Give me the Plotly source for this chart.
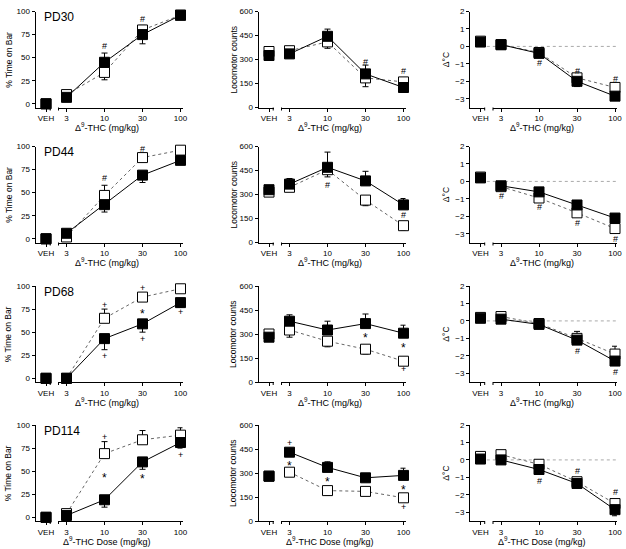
import plotly.graph_objects as go

W, H = 626, 549

panel_names = ['PD30', 'PD44', 'PD68', 'PD114']
veh_label = 'VEH'
dose_labels = ['3', '10', '30', '100']
y_titles = ['% Time on Bar', 'Locomotor counts', 'Δ°C']

# each row: VEH, 3, 10, 30, 100 mg/kg
bar_filled = [[0, 7, 45, 75, 96], [0, 6, 37, 69, 85], [0, 0, 43, 59, 82], [0, 2, 19, 60, 81]]
bar_open = [[0, 10, 34, 80, 96], [0, 2, 47, 88, 96], [0, 0, 65, 88, 97], [0, 4, 69, 84, 89]]
bar_filled_up = [[0, 0, 10, 0, 0], [0, 0, 0, 0, 0], [0, 0, 0, 0, 0], [0, 0, 0, 0, 0]]
bar_filled_dn = [[0, 0, 0, 10, 0], [0, 0, 8, 8, 0], [0, 0, 12, 9, 5], [0, 0, 8, 8, 6]]
bar_open_up = [[0, 0, 0, 5, 0], [0, 0, 11, 0, 0], [0, 0, 10, 0, 0], [0, 0, 13, 10, 8]]
bar_open_dn = [[0, 0, 8, 0, 0], [0, 0, 0, 0, 0], [0, 0, 0, 0, 0], [0, 0, 0, 0, 0]]

loco_filled = [[325, 335, 445, 210, 125], [330, 365, 470, 385, 235], [280, 380, 325, 365, 305], [280, 430, 335, 270, 285]]
loco_open = [[350, 355, 410, 185, 160], [315, 345, 455, 265, 105], [300, 325, 255, 205, 130], [280, 305, 190, 185, 145]]
loco_filled_up = [[0, 0, 45, 55, 0], [0, 35, 95, 60, 40], [0, 40, 55, 60, 50], [0, 0, 35, 0, 45]]
loco_filled_dn = [[0, 0, 0, 0, 0], [0, 0, 0, 0, 0], [0, 0, 0, 0, 0], [0, 0, 0, 0, 0]]
loco_open_up = [[0, 0, 0, 0, 0], [0, 0, 0, 0, 0], [0, 0, 0, 0, 0], [0, 0, 0, 0, 0]]
loco_open_dn = [[0, 0, 40, 55, 0], [0, 0, 45, 35, 30], [0, 45, 35, 30, 15], [0, 20, 30, 0, 15]]

temp_filled = [[0.25, 0.1, -0.4, -2.0, -2.85], [0.2, -0.25, -0.6, -1.35, -2.1],
               [0.15, 0.1, -0.2, -1.1, -2.3], [0.05, 0.0, -0.55, -1.35, -2.85]]
temp_open = [[0.3, 0.1, -0.35, -1.8, -2.35], [0.25, -0.3, -0.95, -1.8, -2.7],
             [0.2, 0.25, -0.15, -1.0, -1.9], [0.2, 0.3, -0.25, -1.25, -2.5]]
temp_filled_up = [[0, 0, 0, 0, 0], [0, 0, 0, 0, 0], [0, 0, 0, 0, 0], [0, 0, 0, 0, 0]]
temp_filled_dn = [[0, 0, 0, 0.3, 0.1], [0, 0, 0, 0, 0], [0, 0, 0.2, 0.2, 0.25], [0, 0, 0, 0, 0.35]]
temp_open_up = [[0, 0, 0, 0, 0], [0, 0, 0, 0, 0], [0.15, 0, 0.25, 0.4, 0.45], [0, 0, 0, 0, 0.2]]
temp_open_dn = [[0, 0, 0, 0, 0], [0, 0, 0, 0, 0], [0, 0, 0, 0, 0], [0, 0, 0, 0, 0]]

# significance marks: (row, col, dose index, y, symbol)
marks = [
    (0, 0, 1, 63, '#'), (0, 0, 2, 92, '#'), (0, 0, 3, 105, '#'),
    (0, 1, 2, 286, '#'), (0, 1, 3, 225, '#'),
    (0, 2, 1, -0.95, '#'), (0, 2, 2, -1.4, '#'), (0, 2, 3, -1.85, '#'),
    (1, 0, 1, 66, '#'), (1, 0, 2, 97, '#'), (1, 0, 3, 107, '#'),
    (1, 1, 1, 359, '#'), (1, 1, 3, 169, '#'),
    (1, 2, 0, -0.86, '#'), (1, 2, 1, -1.49, '#'), (1, 2, 2, -2.38, '#'), (1, 2, 3, -3.28, '#'),
    (2, 0, 1, 79, '+'), (2, 0, 1, 24, '+'), (2, 0, 2, 97.5, '+'), (2, 0, 2, 72, '*'),
    (2, 0, 2, 43, '+'), (2, 0, 3, 106, '+'), (2, 0, 3, 71.5, '+'),
    (2, 1, 2, 289, '*'), (2, 1, 3, 223, '*'), (2, 1, 3, 83, '+'),
    (2, 2, 2, -1.71, '#'), (2, 2, 3, -2.92, '#'),
    (3, 0, 1, 86.6, '+'), (3, 0, 1, 45, '*'), (3, 0, 2, 109, '+'), (3, 0, 2, 44, '*'),
    (3, 0, 3, 102, '+'), (3, 0, 3, 68, '+'),
    (3, 1, 0, 486, '+'), (3, 1, 0, 356, '*'), (3, 1, 1, 259, '*'), (3, 1, 3, 207, '*'), (3, 1, 3, 87, '+'),
    (3, 2, 1, -1.18, '#'), (3, 2, 2, -0.61, '#'), (3, 2, 3, -1.85, '#'),
]

measures = [
    (bar_filled, bar_open, bar_filled_up, bar_filled_dn, bar_open_up, bar_open_dn),
    (loco_filled, loco_open, loco_filled_up, loco_filled_dn, loco_open_up, loco_open_dn),
    (temp_filled, temp_open, temp_filled_up, temp_filled_dn, temp_open_up, temp_open_dn),
]
y_ranges = [[-4, 100], [0, 600], [-3.5, 2]]
y_ticks = [[0, 25, 50, 75, 100], [0, 150, 300, 450, 600], [-3, -2, -1, 0, 1, 2]]

# pixel layout
col_axis_px = [35.5, 258.5, 470]
row_top_px = [11.5, 146.5, 286, 425]
plot_h = 96
y_title_px = [8.3, 233, 445.7]
FONT = 'Arial, Liberation Sans, sans-serif'


def fx(px):
    return px / W


def fy(py):
    return 1 - py / H


def ref(letter, n):
    return letter if n == 1 else f'{letter}{n}'


fig = go.Figure()
layout = {}
annotations = []
shapes = []
dose_pos = list(range(len(dose_labels)))

for r in range(4):
    for c in range(3):
        p = r * 3 + c
        xv, xm, yn = 2 * p + 1, 2 * p + 2, p + 1
        a = col_axis_px[c]
        top = row_top_px[r]
        ydom = [fy(top + plot_h), fy(top)]

        axis_common = dict(showline=True, linecolor='black', linewidth=1, ticks='outside',
                           ticklen=3, tickcolor='black', tickwidth=1, showgrid=False,
                           zeroline=False, tickfont=dict(size=8, color='black', family=FONT),
                           automargin=False, fixedrange=True)

        layout[f'xaxis{xv}'] = dict(axis_common, domain=[fx(a), fx(a + 15)], anchor=ref('y', yn),
                                    range=[-0.7, 0.3], tickvals=[0], ticktext=[veh_label])
        layout[f'xaxis{xm}'] = dict(axis_common, domain=[fx(a + 23), fx(a + 147)], anchor=ref('y', yn),
                                    range=[-8 / 38, 3 + 2 / 38],
                                    tickvals=dose_pos, ticktext=dose_labels)
        layout[f'yaxis{yn}'] = dict(axis_common, domain=ydom, anchor=ref('x', xv),
                                    range=y_ranges[c], tickvals=y_ticks[c])

        # small end ticks at the axis break
        for xr, xpos in [(ref('x', xv) + ' domain', 0.98), (ref('x', xm) + ' domain', 0.0)]:
            shapes.append(dict(type='line', xref=xr, yref=ref('y', yn) + ' domain', ysizemode='pixel',
                               yanchor=0, x0=xpos, x1=xpos, y0=0, y1=-3,
                               line=dict(color='black', width=1)))

        filled, opn, f_up, f_dn, o_up, o_dn = [m[r] for m in measures[c]]

        for vals, up, dn, fill, line in [
            (opn, o_up, o_dn, 'white', dict(color='#666666', width=1, dash='dot')),
            (filled, f_up, f_dn, 'black', dict(color='black', width=1)),
        ]:
            marker = dict(symbol='square', size=10, color=fill, line=dict(color='black', width=1))
            err = lambda u, d: dict(type='data', symmetric=False, array=u, arrayminus=d,
                                    color='black', thickness=1, width=3)
            fig.add_trace(go.Scatter(x=[0], y=[vals[0]], mode='markers', marker=marker,
                                     error_y=err([up[0]], [dn[0]]), cliponaxis=False,
                                     xaxis=ref('x', xv), yaxis=ref('y', yn), showlegend=False))
            fig.add_trace(go.Scatter(x=dose_pos, y=vals[1:], mode='lines+markers', marker=marker,
                                     line=line, error_y=err(up[1:], dn[1:]), cliponaxis=False,
                                     xaxis=ref('x', xm), yaxis=ref('y', yn), showlegend=False))

        if c == 2:
            shapes.append(dict(type='line', xref=ref('x', xm) + ' domain', yref=ref('y', yn),
                               x0=-0.05, x1=1, y0=0, y1=0, layer='below',
                               line=dict(color='#aaaaaa', width=1, dash='dot')))

        # axis titles
        annotations.append(dict(text=y_titles[c], textangle=-90, x=fx(y_title_px[c]),
                                y=fy(top + plot_h / 2), xref='paper', yref='paper',
                                xanchor='center', yanchor='middle',
                                showarrow=False, font=dict(size=8.5, color='black', family=FONT)))
        xt = 'Δ<sup>9</sup>-THC Dose (mg/kg)' if r == 3 else 'Δ<sup>9</sup>-THC (mg/kg)'
        annotations.append(dict(text=xt, x=fx(a + 71.5), y=fy(top + plot_h + 19.5),
                                xref='paper', yref='paper', xanchor='center', yanchor='middle',
                                showarrow=False, font=dict(size=9, color='black', family=FONT)))
        if c == 0:
            annotations.append(dict(text=panel_names[r], x=fx(a + 6), y=fy(top + 5.5),
                                    xref='paper', yref='paper', xanchor='left', yanchor='middle',
                                    showarrow=False, font=dict(size=12, color='black', family=FONT)))

for r, c, d, y, sym in marks:
    p = r * 3 + c
    star = sym == '*'
    annotations.append(dict(text=sym, x=d, y=y, xref=ref('x', 2 * p + 2), yref=ref('y', p + 1),
                            xanchor='center', yanchor='middle', yshift=-2 if star else 0,
                            showarrow=False,
                            font=dict(size=12 if star else 9, color='black', family=FONT)))

fig.update_layout(
    width=W, height=H,
    margin=dict(l=0, r=0, t=0, b=0),
    paper_bgcolor='white', plot_bgcolor='white',
    showlegend=False,
    annotations=annotations,
    shapes=shapes,
    font=dict(family=FONT, color='black'),
    **layout
)

fig.write_html("out.html", config={'displayModeBar': False},
               post_script="document.body.style.margin='0';")
